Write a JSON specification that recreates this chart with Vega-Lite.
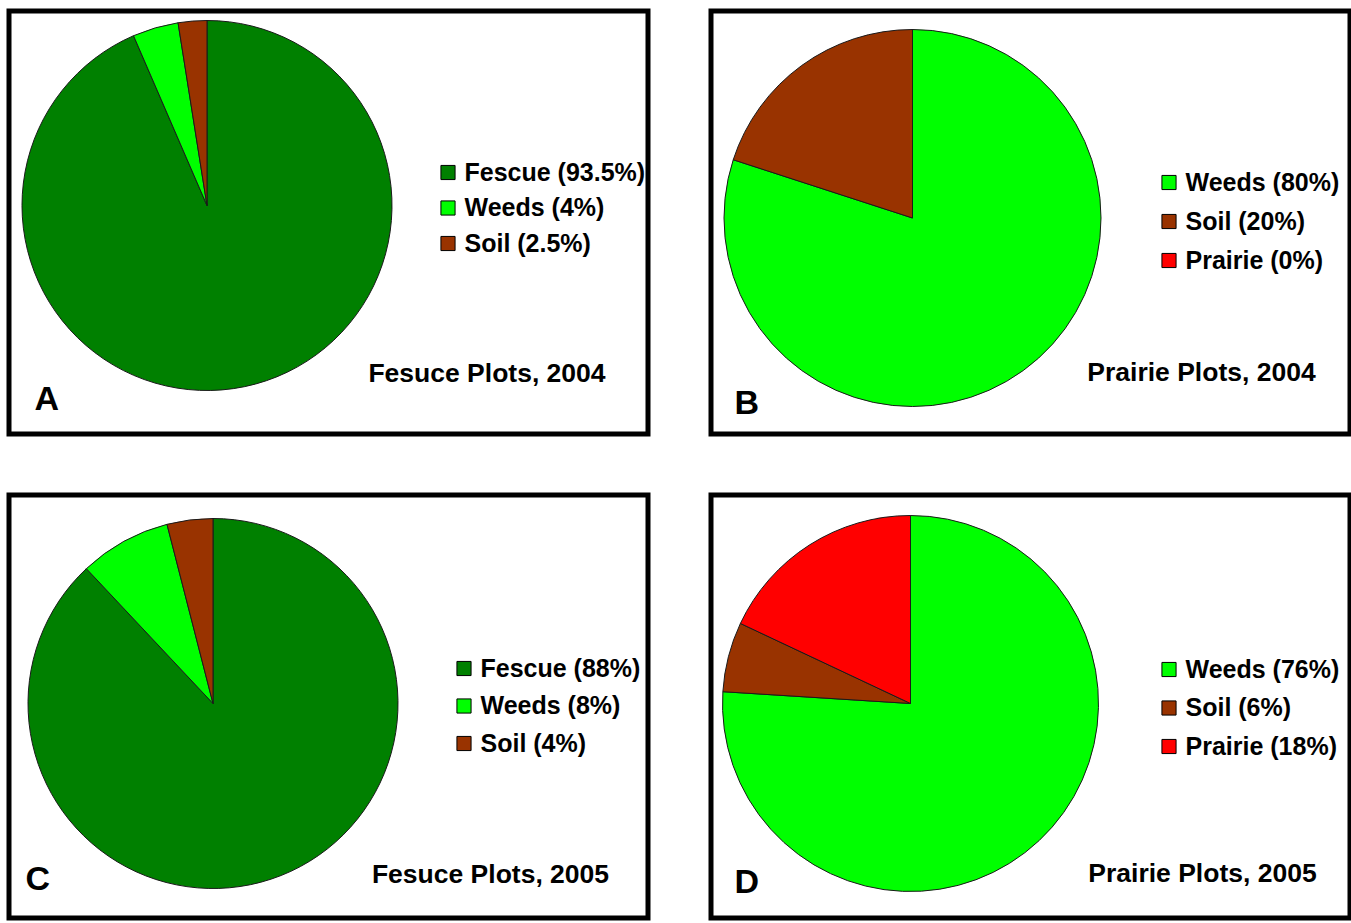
{
  "$schema": "https://vega.github.io/schema/vega-lite/v6.json",
  "padding": {"left": 6, "top": 8, "right": 0, "bottom": 0},
  "background": "white",
  "config": {
    "view": {"stroke": "black", "strokeWidth": 5, "fill": "white"},
    "legend": {
      "orient": "none", "title": null, "symbolType": "square", "symbolSize": 200,
      "symbolStrokeColor": "black", "symbolStrokeWidth": 1, "symbolOpacity": 1,
      "labelFontSize": 25, "labelFont": "Liberation Sans", "labelFontWeight": "bold",
      "labelColor": "black", "labelOffset": 4, "padding": 0, "labelLimit": 400
    },
    "text": {"font": "Liberation Sans", "fontWeight": "bold", "color": "black"}
  },
  "spacing": 55,
  "resolve": {"scale": {"color": "independent", "theta": "independent"}, "legend": {"color": "independent"}},
  "vconcat": [
    {
      "spacing": 57,
      "resolve": {"scale": {"color": "independent", "theta": "independent"}, "legend": {"color": "independent"}},
      "hconcat": [
        {
          "width": 639, "height": 423,
          "view": {"stroke": "black", "strokeWidth": 5, "fill": "white"},
          "layer": [
            {
              "data": {"values": [
                {"category": "Fescue", "label": "Fescue (93.5%)", "percent": 93.5, "ord": 1},
                {"category": "Weeds", "label": "Weeds (4%)", "percent": 4, "ord": 2},
                {"category": "Soil", "label": "Soil (2.5%)", "percent": 2.5, "ord": 3}
              ]},
              "mark": {"type": "arc", "x": 198, "y": 194.5, "outerRadius": 185, "stroke": "#1a1a1a", "strokeWidth": 1},
              "encoding": {
                "theta": {"field": "percent", "type": "quantitative", "stack": true},
                "order": {"field": "ord", "type": "quantitative"},
                "color": {
                  "field": "label", "type": "nominal",
                  "scale": {"domain": ["Fescue (93.5%)", "Weeds (4%)", "Soil (2.5%)"], "range": ["#008000", "#00ff00", "#993300"]},
                  "legend": {"legendX": 426.5, "legendY": 149, "rowPadding": 9.5}
                }
              }
            },
            {
              "data": {"values": [{"t": "Fesuce Plots, 2004"}]},
              "mark": {"type": "text", "x": 478, "y": 371, "align": "center", "baseline": "alphabetic", "fontSize": 26.5},
              "encoding": {"text": {"field": "t"}}
            },
            {
              "data": {"values": [{"t": "A"}]},
              "mark": {"type": "text", "x": 25.5, "y": 398.5, "align": "left", "baseline": "alphabetic", "fontSize": 34},
              "encoding": {"text": {"field": "t"}}
            }
          ]
        },
        {
          "width": 639, "height": 423,
          "view": {"stroke": "black", "strokeWidth": 5, "fill": "white"},
          "layer": [
            {
              "data": {"values": [
                {"category": "Weeds", "label": "Weeds (80%)", "percent": 80, "ord": 1},
                {"category": "Soil", "label": "Soil (20%)", "percent": 20, "ord": 2},
                {"category": "Prairie", "label": "Prairie (0%)", "percent": 0, "ord": 3}
              ]},
              "mark": {"type": "arc", "x": 201.5, "y": 207, "outerRadius": 188.5, "stroke": "#1a1a1a", "strokeWidth": 1},
              "encoding": {
                "theta": {"field": "percent", "type": "quantitative", "stack": true},
                "order": {"field": "ord", "type": "quantitative"},
                "color": {
                  "field": "label", "type": "nominal",
                  "scale": {"domain": ["Weeds (80%)", "Soil (20%)", "Prairie (0%)"], "range": ["#00ff00", "#993300", "#ff0000"]},
                  "legend": {"legendX": 445.5, "legendY": 159, "rowPadding": 13}
                }
              }
            },
            {
              "data": {"values": [{"t": "Prairie Plots, 2004"}]},
              "mark": {"type": "text", "x": 490.5, "y": 369.5, "align": "center", "baseline": "alphabetic", "fontSize": 26.5},
              "encoding": {"text": {"field": "t"}}
            },
            {
              "data": {"values": [{"t": "B"}]},
              "mark": {"type": "text", "x": 23.5, "y": 402.5, "align": "left", "baseline": "alphabetic", "fontSize": 34},
              "encoding": {"text": {"field": "t"}}
            }
          ]
        }
      ]
    },
    {
      "spacing": 57,
      "resolve": {"scale": {"color": "independent", "theta": "independent"}, "legend": {"color": "independent"}},
      "hconcat": [
        {
          "width": 639, "height": 423,
          "view": {"stroke": "black", "strokeWidth": 5, "fill": "white"},
          "layer": [
            {
              "data": {"values": [
                {"category": "Fescue", "label": "Fescue (88%)", "percent": 88, "ord": 1},
                {"category": "Weeds", "label": "Weeds (8%)", "percent": 8, "ord": 2},
                {"category": "Soil", "label": "Soil (4%)", "percent": 4, "ord": 3}
              ]},
              "mark": {"type": "arc", "x": 204, "y": 208.5, "outerRadius": 185, "stroke": "#1a1a1a", "strokeWidth": 1},
              "encoding": {
                "theta": {"field": "percent", "type": "quantitative", "stack": true},
                "order": {"field": "ord", "type": "quantitative"},
                "color": {
                  "field": "label", "type": "nominal",
                  "scale": {"domain": ["Fescue (88%)", "Weeds (8%)", "Soil (4%)"], "range": ["#008000", "#00ff00", "#993300"]},
                  "legend": {"legendX": 442.5, "legendY": 161, "rowPadding": 11.5}
                }
              }
            },
            {
              "data": {"values": [{"t": "Fesuce Plots, 2005"}]},
              "mark": {"type": "text", "x": 481.5, "y": 387.5, "align": "center", "baseline": "alphabetic", "fontSize": 26.5},
              "encoding": {"text": {"field": "t"}}
            },
            {
              "data": {"values": [{"t": "C"}]},
              "mark": {"type": "text", "x": 16.5, "y": 394.5, "align": "left", "baseline": "alphabetic", "fontSize": 34},
              "encoding": {"text": {"field": "t"}}
            }
          ]
        },
        {
          "width": 639, "height": 423,
          "view": {"stroke": "black", "strokeWidth": 5, "fill": "white"},
          "layer": [
            {
              "data": {"values": [
                {"category": "Weeds", "label": "Weeds (76%)", "percent": 76, "ord": 1},
                {"category": "Soil", "label": "Soil (6%)", "percent": 6, "ord": 2},
                {"category": "Prairie", "label": "Prairie (18%)", "percent": 18, "ord": 3}
              ]},
              "mark": {"type": "arc", "x": 199.5, "y": 208.5, "outerRadius": 188, "stroke": "#1a1a1a", "strokeWidth": 1},
              "encoding": {
                "theta": {"field": "percent", "type": "quantitative", "stack": true},
                "order": {"field": "ord", "type": "quantitative"},
                "color": {
                  "field": "label", "type": "nominal",
                  "scale": {"domain": ["Weeds (76%)", "Soil (6%)", "Prairie (18%)"], "range": ["#00ff00", "#993300", "#ff0000"]},
                  "legend": {"legendX": 445.5, "legendY": 162, "rowPadding": 12.5}
                }
              }
            },
            {
              "data": {"values": [{"t": "Prairie Plots, 2005"}]},
              "mark": {"type": "text", "x": 491.5, "y": 386.5, "align": "center", "baseline": "alphabetic", "fontSize": 26.5},
              "encoding": {"text": {"field": "t"}}
            },
            {
              "data": {"values": [{"t": "D"}]},
              "mark": {"type": "text", "x": 23.5, "y": 397.5, "align": "left", "baseline": "alphabetic", "fontSize": 34},
              "encoding": {"text": {"field": "t"}}
            }
          ]
        }
      ]
    }
  ]
}
